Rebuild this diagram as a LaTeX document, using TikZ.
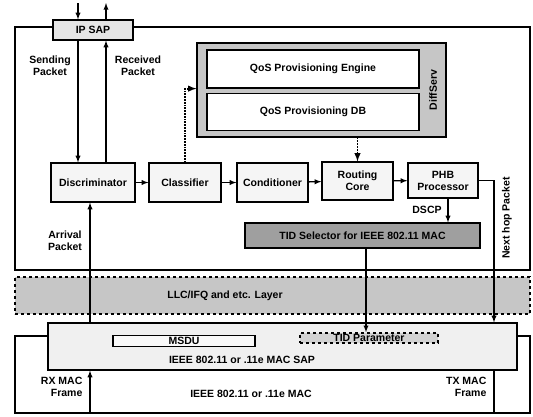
\documentclass[tikz,border=0pt]{standalone}
\usepackage{fontspec}
\setmainfont{Liberation Sans}

\begin{document}
\begin{tikzpicture}[>=latex, x=1pt, y=-1pt, line width=1.2pt,
  every node/.style={font=\fontsize{10.5}{12}\selectfont\bfseries, inner sep=1pt},
  blk/.style={draw, fill=gray!8, minimum height=38pt, align=center},
  qosbox/.style={draw, fill=white, minimum width=212pt, minimum height=37pt},
  flow/.style={->, line width=1.3pt},
  ctrl/.style={->, line width=1.8pt, densely dotted}]

\useasboundingbox (0,0) rectangle (533,416);

% Outer boxes
\draw (15,27) rectangle (530,270);
\draw (48,336) -- (15,336) -- (15,413) -- (530,413) -- (530,336) -- (517,336);

% Layers
\node[draw, dashed, line width=1.5pt, fill=gray!45, minimum width=515pt, minimum height=37pt] (llc) at (272.5,295.5) {};
\node at (225,296) {LLC/IFQ and etc. Layer};
\node[draw, fill=gray!12, minimum width=469pt, minimum height=47pt] (macsap) at (282.5,346.5) {};
\node[draw, line width=1.6pt, fill=gray!5, minimum width=142pt, minimum height=11pt, inner sep=0pt] (msdu) at (184,341) {MSDU};
\node[draw, dashed, line width=1.6pt, fill=gray!35, minimum width=138pt, minimum height=10pt, inner sep=0pt] (tidpar) at (369,338) {TID Parameter};
\node at (242,360) {IEEE 802.11 or .11e MAC SAP};
\node at (251,394) {IEEE 802.11 or .11e MAC};
\node[anchor=east, align=right] at (84,387) {RX MAC\\Frame};
\node[anchor=east, align=right] at (488,387) {TX MAC\\Frame};

% IP SAP
\node[draw, fill=gray!20, minimum width=80pt, minimum height=20pt] (ipsap) at (93,30) {IP SAP};

% DiffServ
\node[draw, fill=gray!45, minimum width=249pt, minimum height=94pt] (diffserv) at (321.5,90) {};
\node[qosbox, minimum height=38pt] (engine) at (313,69) {QoS Provisioning Engine};
\node[qosbox] (db) at (313,112) {QoS Provisioning DB};
\node[rotate=90] at (433,90) {DiffServ};

% Function blocks
\node[blk, minimum width=84pt, minimum height=39pt] (disc) at (93,182.5) {Discriminator};
\node[blk, minimum width=72pt, minimum height=39pt] (clas) at (185,182.5) {Classifier};
\node[blk, minimum width=71pt, minimum height=39pt] (cond) at (272.5,182.5) {Conditioner};
\node[blk, minimum width=71pt] (core) at (357.5,181) {Routing\\Core};
\node[blk, minimum width=70pt, minimum height=35pt] (phb) at (443,180.5) {PHB\\Processor};
\node[draw, fill=gray!75, text=black, minimum width=235pt, minimum height=25pt] (tid) at (362.5,235.5) {TID Selector for IEEE 802.11 MAC};

% Coordinates for the vertical paths
\coordinate (sendx) at (78,0);
\coordinate (recvx) at (106,0);
\coordinate (rxx) at (90,0);
\coordinate (dscpx) at (448,0);
\coordinate (tidx) at (366,0);
\coordinate (hopx) at (494,0);
\coordinate (ipin) at (78,3);
\coordinate (ipout) at (106,3);
\coordinate (lowbot) at (0,413);

% IP SAP in and out
\draw[flow] (ipin) -- (ipsap.north -| sendx);
\draw[flow] (ipsap.north -| recvx) -- (ipout);
\draw[flow] (ipsap.south -| sendx) -- (disc.north -| sendx);
\draw[flow] (disc.north -| recvx) -- (ipsap.south -| recvx);
\node[align=center] at (50,66) {Sending\\Packet};
\node[align=center] at (138,66) {Received\\Packet};

% Packet path
\draw[flow] (disc) -- (clas);
\draw[flow] (clas) -- (cond);
\draw[flow] (cond) -- (core);
\draw[flow] (core) -- (phb);

% Control with DiffServ
\draw[ctrl] (clas.north) -- (clas.north |- engine.south) -- (diffserv.west |- engine.south);
\draw[ctrl] (diffserv.south -| core) -- (core.north);

% To and from the MAC
\draw[flow] (phb.south -| dscpx) -- (tid.north -| dscpx);
\node at (427,210) {DSCP};
\draw[flow] (tid.south -| tidx) -- (tidpar.north -| tidx);
\draw[flow] (phb.east) -- (phb.east -| hopx) -- (macsap.north -| hopx);
\node[rotate=90] at (507,218) {Next hop Packet};
\draw[flow] (macsap.north -| rxx) -- (disc.south -| rxx);
\node[align=center] at (65,241) {Arrival\\Packet};
\draw[flow] (lowbot -| rxx) -- (macsap.south -| rxx);
\draw (macsap.south -| hopx) -- (lowbot -| hopx);

\end{tikzpicture}
\end{document}
